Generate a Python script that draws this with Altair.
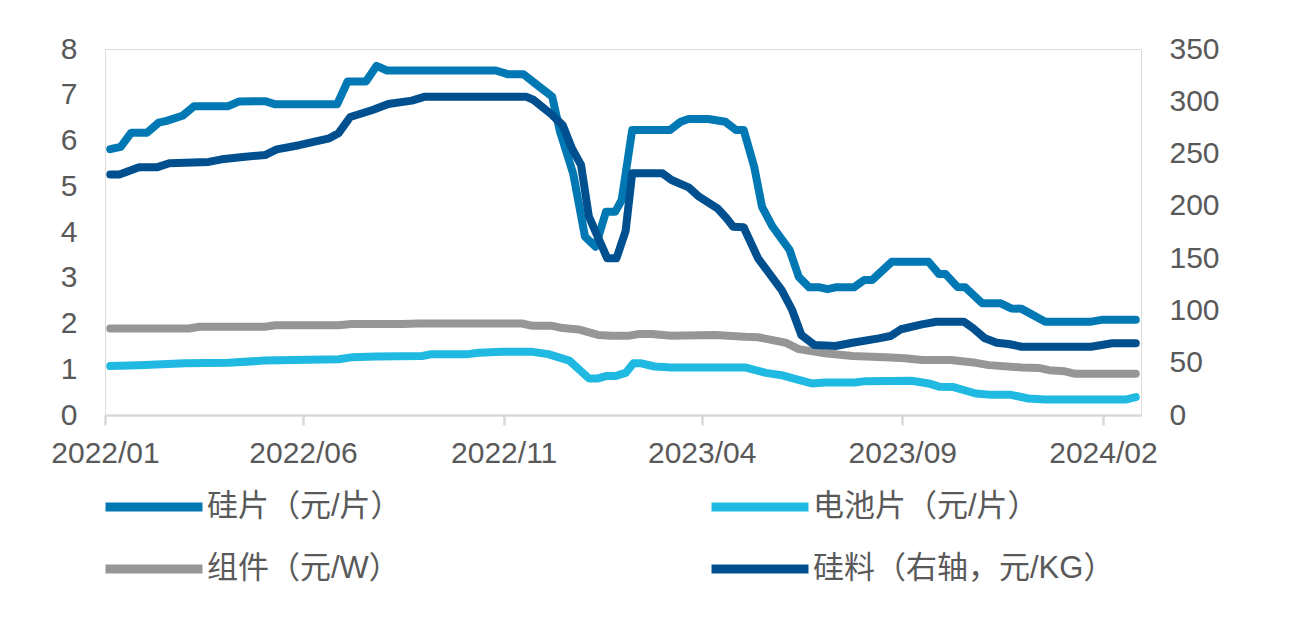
import altair as alt
import pandas as pd

# ---- data (left axis: 元/片, 元/W; right axis: 元/KG) ----
wafer_dates = ["2022-01-05", "2022-01-13", "2022-01-21", "2022-02-02", "2022-02-11", "2022-02-17",
               "2022-03-01", "2022-03-10", "2022-04-05", "2022-04-13", "2022-05-03", "2022-05-11",
               "2022-06-27", "2022-07-05", "2022-07-19", "2022-07-27", "2022-08-04", "2022-10-26",
               "2022-11-04", "2022-11-16", "2022-11-28", "2022-12-08", "2022-12-14", "2022-12-24",
               "2023-01-02", "2023-01-10", "2023-01-18", "2023-01-25", "2023-01-30", "2023-02-07",
               "2023-03-08", "2023-03-16", "2023-03-22", "2023-04-06", "2023-04-19", "2023-04-27",
               "2023-05-03", "2023-05-11", "2023-05-17", "2023-05-25", "2023-06-07", "2023-06-14",
               "2023-06-22", "2023-06-30", "2023-07-06", "2023-07-12", "2023-07-26", "2023-08-03",
               "2023-08-09", "2023-08-24", "2023-09-21", "2023-09-29", "2023-10-04", "2023-10-13",
               "2023-10-19", "2023-11-01", "2023-11-15", "2023-11-23", "2023-12-01", "2023-12-19",
               "2024-01-23", "2024-01-31", "2024-02-26"]
wafer_vals = [5.81, 5.86, 6.17, 6.17, 6.39, 6.43,
              6.54, 6.75, 6.75, 6.85, 6.86, 6.79,
              6.79, 7.29, 7.29, 7.63, 7.53, 7.53,
              7.45, 7.45, 7.18, 6.96, 6.19, 5.28,
              3.90, 3.68, 4.44, 4.44, 4.70, 6.23,
              6.23, 6.41, 6.47, 6.47, 6.41, 6.23,
              6.23, 5.43, 4.55, 4.12, 3.61, 3.02,
              2.79, 2.79, 2.75, 2.79, 2.79, 2.95,
              2.95, 3.35, 3.35, 3.08, 3.08, 2.80,
              2.79, 2.44, 2.44, 2.33, 2.32, 2.04,
              2.04, 2.08, 2.08]

cell_dates = ["2022-01-05", "2022-01-27", "2022-03-03", "2022-04-05", "2022-05-03", "2022-06-28",
              "2022-07-08", "2022-07-27", "2022-08-31", "2022-09-07", "2022-10-05", "2022-10-13",
              "2022-10-31", "2022-11-23", "2022-12-05", "2022-12-21", "2023-01-05", "2023-01-12",
              "2023-01-18", "2023-01-25", "2023-02-02", "2023-02-08", "2023-02-14", "2023-02-24",
              "2023-03-09", "2023-05-04", "2023-05-20", "2023-06-01", "2023-06-11", "2023-06-24",
              "2023-07-04", "2023-07-27", "2023-08-04", "2023-09-08", "2023-09-21", "2023-09-29",
              "2023-10-10", "2023-10-27", "2023-11-08", "2023-11-23", "2023-12-06", "2023-12-19",
              "2024-02-19", "2024-02-26"]
cell_vals = [1.07, 1.09, 1.13, 1.14, 1.19, 1.22,
             1.26, 1.28, 1.29, 1.33, 1.33, 1.36,
             1.38, 1.38, 1.33, 1.19, 0.80, 0.80,
             0.85, 0.85, 0.92, 1.13, 1.13, 1.06,
             1.04, 1.04, 0.92, 0.87, 0.79, 0.69,
             0.71, 0.71, 0.74, 0.75, 0.69, 0.62,
             0.61, 0.47, 0.44, 0.44, 0.36, 0.34,
             0.34, 0.39]

module_dates = ["2022-01-05", "2022-03-06", "2022-03-14", "2022-05-03", "2022-05-11", "2022-06-28",
                "2022-07-08", "2022-08-16", "2022-08-28", "2022-11-15", "2022-11-23", "2022-12-08",
                "2022-12-16", "2022-12-28", "2023-01-12", "2023-01-22", "2023-02-04", "2023-02-12",
                "2023-02-22", "2023-03-09", "2023-04-11", "2023-05-04", "2023-05-14", "2023-06-04",
                "2023-06-14", "2023-07-04", "2023-07-25", "2023-08-19", "2023-09-03", "2023-09-16",
                "2023-10-08", "2023-10-27", "2023-11-06", "2023-12-01", "2023-12-14", "2023-12-22",
                "2024-01-03", "2024-01-11", "2024-02-26"]
module_vals = [1.89, 1.89, 1.93, 1.93, 1.96, 1.96,
               1.99, 1.99, 2.00, 2.00, 1.95, 1.95,
               1.90, 1.87, 1.75, 1.73, 1.73, 1.77,
               1.77, 1.73, 1.75, 1.71, 1.70, 1.58,
               1.44, 1.35, 1.29, 1.26, 1.24, 1.20,
               1.20, 1.14, 1.09, 1.04, 1.03, 0.98,
               0.955, 0.90, 0.90]

poly_dates = ["2022-01-05", "2022-01-12", "2022-01-27", "2022-02-10", "2022-02-19", "2022-03-21",
              "2022-03-31", "2022-04-18", "2022-05-03", "2022-05-12", "2022-05-29", "2022-06-21",
              "2022-06-28", "2022-07-07", "2022-07-24", "2022-08-05", "2022-08-23", "2022-09-02",
              "2022-11-18", "2022-11-24", "2022-12-08", "2022-12-16", "2022-12-23", "2022-12-30",
              "2023-01-05", "2023-01-19", "2023-01-26", "2023-02-02", "2023-02-07", "2023-03-02",
              "2023-03-09", "2023-03-22", "2023-03-30", "2023-04-13", "2023-04-20", "2023-04-25",
              "2023-05-03", "2023-05-14", "2023-06-01", "2023-06-09", "2023-06-16", "2023-06-26",
              "2023-07-12", "2023-07-25", "2023-08-14", "2023-08-23", "2023-08-31", "2023-09-16",
              "2023-09-27", "2023-10-18", "2023-10-25", "2023-11-03", "2023-11-12", "2023-11-21",
              "2023-12-01", "2024-01-23", "2024-01-31", "2024-02-08", "2024-02-26"]
poly_vals = [230, 230, 237, 237, 240.7, 242,
             244.5, 247, 248.6, 254, 258, 264.6,
             269.4, 285, 291.7, 297.4, 300.6, 304.4,
             304.4, 301.2, 286.9, 277.3, 255.1, 239.1,
             189.6, 149.8, 149.8, 176, 231.1, 231.1,
             224.7, 217.7, 208.8, 197.7, 188.1, 180.1,
             179.5, 149.8, 119.5, 100.4, 76.5, 66.9,
             66.0, 69.1, 73.3, 75.5, 82.0, 86.7,
             89.2, 89.2, 82.9, 73.3, 69.1, 67.9,
             65.3, 65.3, 66.9, 68.6, 68.6]

# legend order (column-major grid of 2 columns): col 1 = 硅片, 组件 ; col 2 = 电池片, 硅料
series_names = ["硅片（元/片）", "组件（元/W）", "电池片（元/片）", "硅料（右轴，元/KG）"]
series_colors = ["#0078B4", "#969696", "#1FB9E1", "#00508F"]
left_ticks = [0, 1, 2, 3, 4, 5, 6, 7, 8]
right_ticks = [0, 50, 100, 150, 200, 250, 300, 350]
x_tick_months = [(2022, 1), (2022, 6), (2022, 11), (2023, 4), (2023, 9), (2024, 2)]

rows = []
for name, dates, vals, side in [
    ("硅片（元/片）", wafer_dates, wafer_vals, "left"),
    ("电池片（元/片）", cell_dates, cell_vals, "left"),
    ("组件（元/W）", module_dates, module_vals, "left"),
    ("硅料（右轴，元/KG）", poly_dates, poly_vals, "right"),
]:
    for d, v in zip(dates, vals):
        rows.append({"date": d, "value": v, "series": name, "side": side})
df = pd.DataFrame(rows)

FONT = "Liberation Sans, Arial, Noto Sans CJK SC"
TXT = "#595959"
AX_FS = 30

x_enc = alt.X(
    "date:T",
    scale=alt.Scale(type="utc", domain=[alt.DateTime(year=2022, month=1, date=1, utc=True),
                                         alt.DateTime(year=2024, month=3, date=1, utc=True)]),
    axis=alt.Axis(
        values=[alt.DateTime(year=y, month=m, date=1, utc=True) for y, m in x_tick_months],
        labelExpr="utcFormat(datum.value, '%Y/%m')",
        grid=False, domainColor="#D9D9D9", domainWidth=2.5, tickColor="#D9D9D9",
        tickWidth=2.5, tickSize=10, labelFontSize=AX_FS, labelFont=FONT, labelColor=TXT,
        labelPadding=13, labelFlush=False, labelOverlap=False,
    ),
    title=None,
)

# wide flat legend symbol: a path three times wider than the layout box, so rows can stay close
color_enc = alt.Color(
    "series:N",
    scale=alt.Scale(domain=series_names, range=series_colors),
    legend=alt.Legend(
        title=None, orient="none", legendX=28, legendY=437, columns=2,
        symbolType="M-3,0L3,0", symbolSize=1045, symbolStrokeWidth=9,
        labelFontSize=31, labelFont=FONT, labelColor=TXT, labelOffset=32,
        columnPadding=291, rowPadding=23, padding=0, labelLimit=0,
    ),
)

base = alt.Chart(df).encode(x=x_enc, color=color_enc, order=alt.Order("date:T"))

left = base.transform_filter(alt.datum.side == "left").mark_line(
    strokeWidth=8, strokeCap="round", strokeJoin="round"
).encode(
    y=alt.Y("value:Q", scale=alt.Scale(domain=[0, 8]),
            axis=alt.Axis(values=left_ticks, orient="left", grid=False, domain=False, ticks=False,
                          labelFontSize=AX_FS, labelFont=FONT, labelColor=TXT, labelPadding=28),
            title=None)
)

right = base.transform_filter(alt.datum.side == "right").mark_line(
    strokeWidth=8, strokeCap="round", strokeJoin="round"
).encode(
    y=alt.Y("value:Q", scale=alt.Scale(domain=[0, 350]),
            axis=alt.Axis(values=right_ticks, orient="right", grid=False, domain=False, ticks=False,
                          labelFontSize=AX_FS, labelFont=FONT, labelColor=TXT, labelPadding=28),
            title=None)
)

chart = alt.layer(left, right).resolve_scale(y="independent").properties(
    width=1036, height=366,
    autosize=alt.AutoSizeParams(type="none"),
    padding={"left": 105, "top": 49, "right": 156, "bottom": 209},
).configure_view(stroke=None).configure(background="white")

chart.save("out.html", embed_options={"renderer": "svg", "actions": False})
